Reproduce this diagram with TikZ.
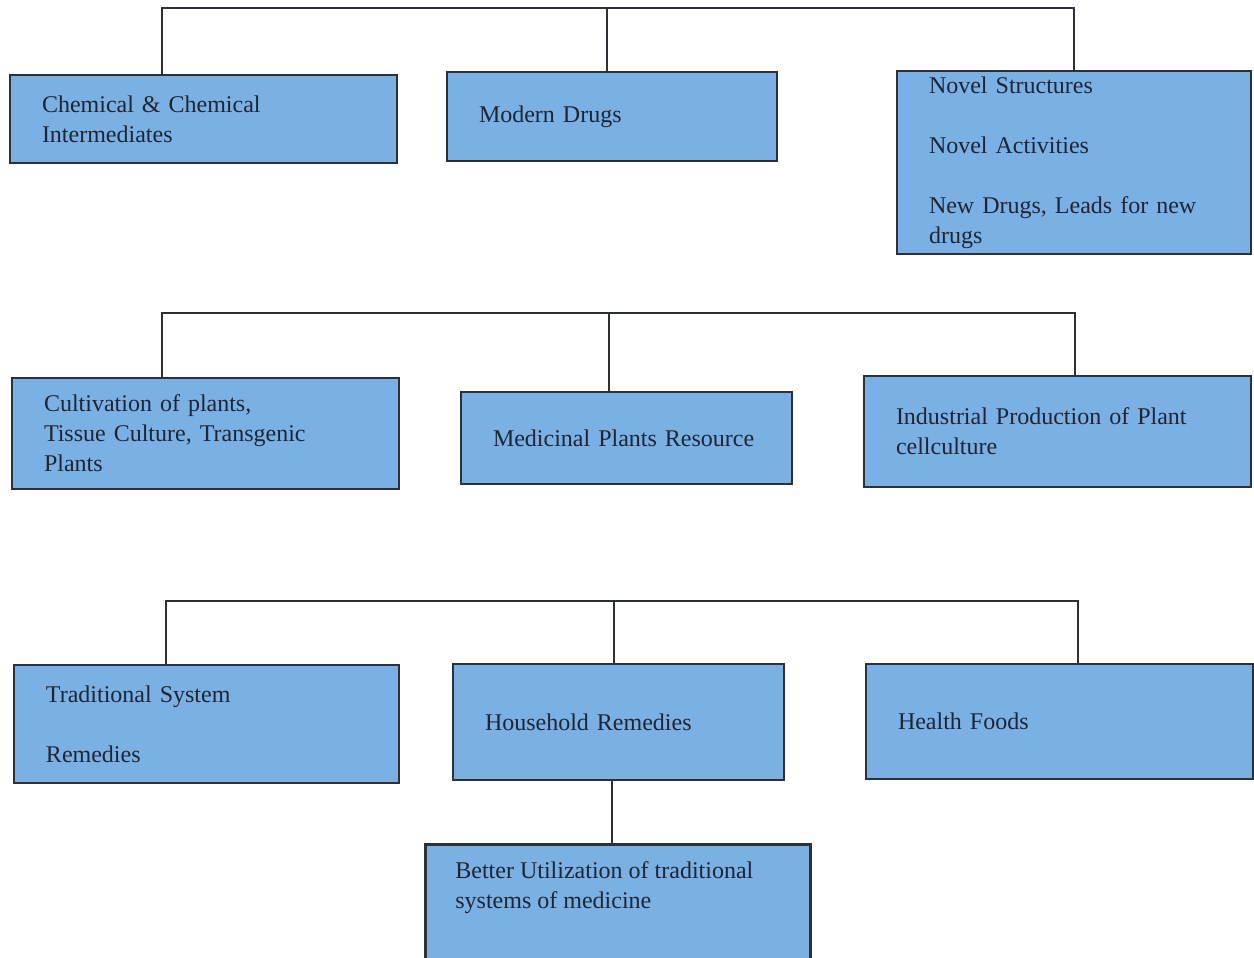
\documentclass[tikz,border=0pt]{standalone}
\usepackage{fontspec}
\setmainfont{Liberation Serif}
\definecolor{boxfill}{RGB}{122,176,228}
\definecolor{boxline}{RGB}{45,48,55}
\definecolor{txt}{RGB}{30,38,52}
\begin{document}
\begin{tikzpicture}[x=0.5pt,y=-0.5pt,
  box/.style={draw=boxline,line width=1.3pt,fill=boxfill,rectangle,
    inner xsep=16pt,inner ysep=0pt,align=left,text=txt,
    font=\fontsize{12}{15}\selectfont},
  conn/.style={draw=boxline,line width=1.1pt}]
\useasboundingbox (0,0) rectangle (1254,958);
% row 1
\node[box,text width=161.5pt,minimum height=44pt] (A) at (203.5,119) {Chemical \& Chemical\\Intermediates};
\node[box,text width=133pt,minimum height=44.5pt] (B) at (612,116.5) {Modern Drugs};
\node[box,text width=145pt,minimum height=91.5pt] (C) at (1074,162.5) {Novel Structures\\[15pt]Novel Activities\\[15pt]New Drugs, Leads for new\\drugs};
\coordinate (r1l) at (162,8);
\coordinate (r1m) at (607,8);
\coordinate (r1r) at (1074,8);
\draw[conn] (r1l |- A.north) -- (r1l) -- (r1r) -- (r1r |- C.north);
\draw[conn] (r1m) -- (r1m |- B.north);
% row 2
\node[box,text width=161.5pt,minimum height=55.5pt] (D) at (205.5,433.5) {Cultivation of plants,\\Tissue Culture, Transgenic\\Plants};
\node[box,text width=133.5pt,minimum height=46pt] (E) at (626.5,438) {Medicinal Plants Resource};
\node[box,text width=161.5pt,minimum height=55.5pt] (F) at (1057.5,431.5) {Industrial Production of Plant\\cellculture};
\coordinate (r2l) at (162,313);
\coordinate (r2m) at (609,313);
\coordinate (r2r) at (1075,313);
\draw[conn] (r2l |- D.north) -- (r2l) -- (r2r) -- (r2r |- F.north);
\draw[conn] (r2m) -- (r2m |- E.north);
% row 3
\node[box,text width=160.5pt,minimum height=59pt] (G) at (206.5,724) {Traditional System\\[15pt]Remedies};
\node[box,text width=133.5pt,minimum height=58pt] (H) at (618.5,722) {Household Remedies};
\node[box,text width=161.5pt,minimum height=57.5pt] (I) at (1059.5,721.5) {Health Foods};
\coordinate (r3l) at (166,601);
\coordinate (r3m) at (614,601);
\coordinate (r3r) at (1078,601);
\draw[conn] (r3l |- G.north) -- (r3l) -- (r3r) -- (r3r |- I.north);
\draw[conn] (r3m) -- (r3m |- H.north);
% bottom box
\node[draw=boxline,line width=1.3pt,fill=boxfill,rectangle,anchor=north west,
  minimum width=192.5pt,minimum height=70pt,inner sep=0pt] (J) at (424,843) {};
\node[anchor=base west,inner sep=0pt,align=left,text=txt,font=\fontsize{12}{15}\selectfont] (Jt) at (455,908) {Better Utilization of traditional\\systems of medicine};
\coordinate (hj) at (612,780);
\draw[conn] (hj |- H.south) -- (hj |- J.north);
\end{tikzpicture}
\end{document}
